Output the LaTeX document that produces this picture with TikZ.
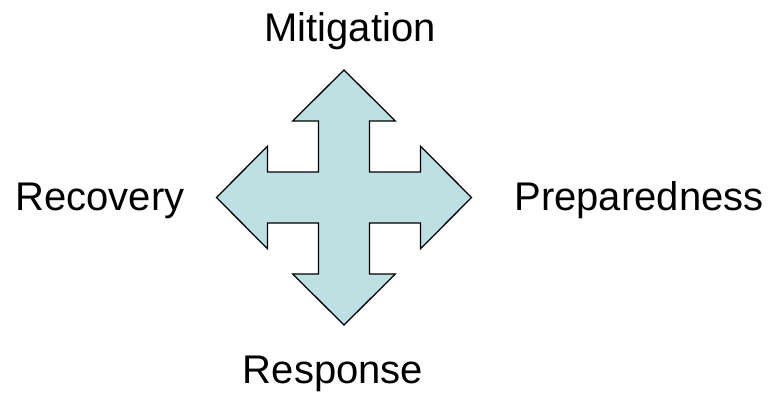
\documentclass[tikz,border=0pt]{standalone}
\usepackage{fontspec}
\setmainfont{Liberation Sans}
\usepackage{tikz}
\usetikzlibrary{positioning, calc}
\definecolor{crossfill}{RGB}{189,224,227}
\tikzstyle{phase} = [inner sep=0pt, font=\fontsize{40}{48}\selectfont]
\tikzstyle{cross} = [draw=black, line width=1.3pt, line join=miter, fill=crossfill]

\begin{document}
\begin{tikzpicture}[x=1pt, y=-1pt]
      \useasboundingbox (0,0) rectangle (776,401);

      % Four-way arrow
      \begin{scope}[shift={(344,197.5)}]
        \def\a{25.5} \def\h{51.3} \def\b{76.5} \def\t{127.5}
        \draw[cross] (0,-\t) -- (\h,-\b) -- (\a,-\b) -- (\a,-\a) -- (\b,-\a) -- (\b,-\h)
          -- (\t,0) -- (\b,\h) -- (\b,\a) -- (\a,\a) -- (\a,\b) -- (\h,\b)
          -- (0,\t) -- (-\h,\b) -- (-\a,\b) -- (-\a,\a) -- (-\b,\a) -- (-\b,\h)
          -- (-\t,0) -- (-\b,-\h) -- (-\b,-\a) -- (-\a,-\a) -- (-\a,-\b) -- (-\h,-\b) -- cycle;
      \end{scope}

      % Phases
      \node[phase, anchor=base] (mitigation) at (350,41.7) {Mitigation};
      \node[phase, anchor=base] (preparedness) at (639,210) {Preparedness};
      \node[phase, anchor=base] (response) at (333,383.3) {Response};
      \node[phase, anchor=base] (recovery) at (100,210.7) {Recovery};
\end{tikzpicture}
\end{document}
